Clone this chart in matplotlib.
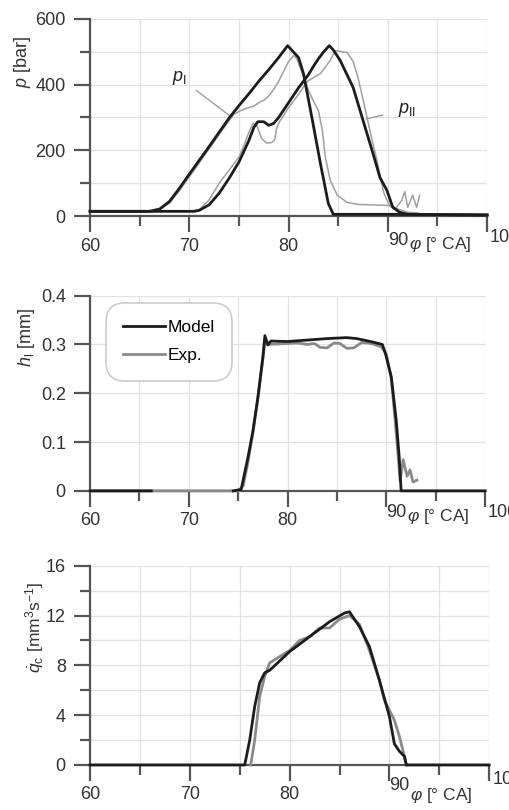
import numpy as np
import matplotlib
matplotlib.use("Agg")
import matplotlib.pyplot as plt
from matplotlib.ticker import FixedLocator

plt.rcParams['font.family'] = ['Liberation Sans', 'DejaVu Sans']
plt.rcParams['mathtext.fontset'] = 'custom'
plt.rcParams['mathtext.rm'] = 'Liberation Sans'
plt.rcParams['mathtext.it'] = 'Liberation Sans:italic'

# --- pressure, top panel ---
phi_pI_mod = [60, 66, 67, 68, 69, 70, 71, 72, 73, 74, 75, 76, 77, 78, 79, 79.9,
              81.0, 81.5, 82.4, 83.2, 84.0, 84.5, 90, 100]
pI_mod = [15, 15, 22, 45, 85, 128, 170, 212, 255, 298, 336, 372, 410, 445, 482, 518,
          482, 433, 291, 161, 39, 6, 6, 4]

phi_pI_exp = [60, 66, 67, 68, 69, 70, 71, 72, 73, 74, 74.5, 75, 75.5, 76, 76.5, 77,
              77.5, 78, 78.5, 79, 79.5, 80, 80.5, 80.8, 81.4, 82.0, 82.5, 83.0, 83.4,
              83.7, 84.2, 84.9, 85.9, 87, 90, 90.5, 91, 92, 93]
pI_exp = [15, 15, 20, 40, 78, 120, 162, 205, 248, 290, 310, 318, 325, 330, 334, 345,
          352, 365, 385, 410, 440, 470, 488, 480, 433, 382, 350, 321, 261,
          179, 109, 64, 42, 36, 33, 30, 22, 12, 10]

phi_pII_mod = [60, 70.5, 71, 72, 73, 74, 75, 76, 76.5, 76.9, 77.5, 78, 78.5, 79, 80,
               81, 82, 82.5, 83, 83.5, 84.1, 84.5, 85.2, 86.5, 87.5, 88.5, 89.2, 89.9,
               90.5, 91.2, 92, 100]
pII_mod = [15, 15, 18, 35, 70, 115, 165, 230, 270, 287, 287, 276, 282, 300, 345,
           390, 430, 455, 478, 498, 518, 505, 473, 391, 291, 191, 118, 79,
           27, 12, 6, 4]

phi_pII_exp = [60, 70, 71, 72, 73, 74, 75, 75.5, 76, 76.4, 76.8, 77.3, 77.8, 78.3,
               78.6, 78.8, 79.1, 80, 81, 81.9, 83.2, 84.2, 84.7, 85.9, 86.5, 87, 87.5,
               87.9, 88.5, 88.9, 89.3, 89.6, 90.2, 90.8, 91.4, 91.7, 92.0, 92.5, 92.9, 93.2]
pII_exp = [15, 15, 20, 50, 100, 140, 180, 215, 255, 282, 275, 235, 222, 224,
           232, 268, 288, 330, 370, 410, 433, 473, 503, 497, 470, 420, 355,
           300, 220, 170, 110, 70, 30, 25, 48, 75, 27, 64, 27, 64]

# --- lift, middle panel ---
phi_h_mod = [60, 66.2, np.nan, 74.5, 75.3, 76, 76.5, 77, 77.5, 77.7, 78.0, 78.3, 80, 82,
             84, 86, 87, 88.4, 89.6, 89.9, 90.5, 91, 91.3, 91.5, 100]
h_mod = [0, 0, np.nan, 0, 0.003, 0.07, 0.124, 0.193, 0.275, 0.318, 0.299, 0.307, 0.306,
         0.309, 0.312, 0.314, 0.312, 0.306, 0.300, 0.282, 0.234, 0.145, 0.07, 0, 0]

phi_h_exp = [60, 75.0, 75.5, 76, 76.5, 77, 77.5, 77.7, 78, 80, 81, 82, 82.7, 83.3, 84,
             84.7, 85.3, 86, 86.7, 87.5, 88.5, 89.5, 90, 90.5, 91, 91.4, 91.7, 92.1,
             92.4, 92.7, 93.1]
h_exp = [0, 0, 0.01, 0.06, 0.12, 0.19, 0.27, 0.305, 0.30, 0.302, 0.303, 0.30, 0.302,
         0.294, 0.293, 0.303, 0.302, 0.292, 0.293, 0.304, 0.302, 0.295, 0.28, 0.23,
         0.12, 0.02, 0.064, 0.03, 0.043, 0.018, 0.022]

# --- flow rate, bottom panel ---
phi_q_mod = [60, 75.5, 76, 76.5, 77, 77.5, 78, 80, 82, 84, 85.5, 86, 87, 88, 89, 90,
             90.5, 91, 91.5, 91.7, 100]
q_mod = [0, 0, 2.0, 4.7, 6.6, 7.4, 7.6, 9.1, 10.3, 11.5, 12.2, 12.3, 11.1, 9.5, 6.8,
         3.9, 1.7, 1.1, 0.7, 0, 0]

phi_q_exp = [76.1, 76.5, 77, 77.5, 78, 79, 80, 81, 82, 83, 84, 85, 86, 87, 88, 89,
             89.5, 90, 90.5, 91, 91.5, 91.7]
q_exp = [0, 2, 5.5, 7.1, 8.2, 8.7, 9.2, 10.0, 10.3, 11.0, 11.0, 11.7, 12.0, 11.3, 9.2,
         6.8, 5.2, 4.4, 3.6, 2.3, 0.7, 0]

# tick values / labels
x_major = [60, 70, 80, 90, 100]
x_minor = [65, 75, 85, 95]
x_labels = ['60', '70', '80', '', '']
p_ticks = [0, 200, 400, 600]
p_minor = [100, 300, 500]
h_ticks = [0, 0.1, 0.2, 0.3, 0.4]
h_labels = ['0', '0.1', '0.2', '0.3', '0.4']
q_ticks = [0, 4, 8, 12, 16]
q_minor = [2, 6, 10, 14]

ax_col = '#555555'
blk = '#1c1c1c'
fs = 13

fig = plt.figure(figsize=(5.09, 8.10), dpi=100)
ax1 = fig.add_axes([0.177, 0.733, 0.780, 0.244])
ax2 = fig.add_axes([0.177, 0.394, 0.776, 0.241])
ax3 = fig.add_axes([0.177, 0.0556, 0.784, 0.246])


def style(ax, ymax, yticks, yminor, ylabels, offs):
    ax.set_xlim(60, 100)
    ax.set_ylim(0, ymax)
    for s in ['top', 'right']:
        ax.spines[s].set_visible(False)
    for s in ['left', 'bottom']:
        ax.spines[s].set_color(ax_col)
        ax.spines[s].set_linewidth(1.6)
    ax.set_xticks(x_major)
    ax.set_xticklabels(x_labels)
    ax.xaxis.set_minor_locator(FixedLocator(x_minor))
    ax.set_yticks(yticks)
    ax.set_yticklabels(ylabels)
    if yminor:
        ax.yaxis.set_minor_locator(FixedLocator(yminor))
    ax.tick_params(which='major', length=11.5, width=1.6, color=ax_col,
                   labelsize=fs, labelcolor='#333333')
    ax.tick_params(which='minor', length=7, width=1.6, color=ax_col)
    ax.tick_params(axis='y', pad=6)
    ax.tick_params(axis='x', pad=4)
    ax.grid(which='both', color='#e2e2e2', lw=0.9)
    ax.set_axisbelow(True)
    # shifted labels near the right end of the x axis
    o90, ophi, o100 = offs
    ax.annotate('90', xy=(90, 0), xycoords=('data', 'axes fraction'),
                xytext=(0, o90), textcoords='offset pixels', ha='left',
                va='center', fontsize=fs, color='#333333', annotation_clip=False)
    ax.annotate(r'$\varphi$ [° CA]', xy=(92.1, 0), xycoords=('data', 'axes fraction'),
                xytext=(0, ophi), textcoords='offset pixels', ha='left',
                va='center', fontsize=12.5, color='#333333', annotation_clip=False)
    ax.annotate('100', xy=(100, 0), xycoords=('data', 'axes fraction'),
                xytext=(3, o100), textcoords='offset pixels', ha='left',
                va='center', fontsize=fs, color='#333333', annotation_clip=False)


style(ax1, 600, p_ticks, p_minor, [str(v) for v in p_ticks], (-24, -28, -21))
style(ax2, 0.4, h_ticks, None, h_labels, (-22, -26, -22))
style(ax3, 16, q_ticks, q_minor, [str(v) for v in q_ticks], (-21, -31, -15))

# top panel
ax1.plot(phi_pI_exp, pI_exp, color='#a0a0a0', lw=1.1, zorder=3, clip_on=False)
ax1.plot(phi_pII_exp, pII_exp, color='#a0a0a0', lw=1.1, zorder=3, clip_on=False)
ax1.plot(phi_pI_mod, pI_mod, color=blk, lw=2.0, zorder=4, clip_on=False)
ax1.plot(phi_pII_mod, pII_mod, color=blk, lw=2.0, zorder=4, clip_on=False)
ax1.annotate(r'$p_\mathrm{I}$', xy=(74.3, 300), xytext=(69.0, 421),
             ha='center', va='center', fontsize=fs, color='#222222',
             arrowprops=dict(arrowstyle='-', color='#a0a0a0', lw=1.0,
                             shrinkA=6, shrinkB=0))
ax1.annotate(r'$p_\mathrm{II}$', xy=(87.8, 295), xytext=(91.9, 324),
             ha='center', va='center', fontsize=fs, color='#222222',
             arrowprops=dict(arrowstyle='-', color='#a0a0a0', lw=1.0,
                             shrinkA=9, shrinkB=0))
ax1.text(-0.171, 0.78, r'$p$ [bar]', transform=ax1.transAxes, rotation=90,
         ha='center', va='center', fontsize=fs, color='#333333')

# middle panel
ax2.plot(phi_h_exp, h_exp, color='#8a8a8a', lw=2.0, zorder=3, clip_on=False, label='Exp.')
ax2.plot(phi_h_mod, h_mod, color=blk, lw=2.0, zorder=4, clip_on=False, label='Model')
h, l = ax2.get_legend_handles_labels()
leg = ax2.legend(h[::-1], l[::-1], loc='upper left', bbox_to_anchor=(0.04, 0.964),
                 borderaxespad=0, fontsize=12.5, handlelength=2.4, handletextpad=0.15,
                 labelspacing=0.75, borderpad=1.0, fancybox=True, framealpha=1)
leg.get_frame().set_edgecolor('#cccccc')
leg.get_frame().set_linewidth(1.2)
leg.get_frame().set_boxstyle('round', pad=0.0, rounding_size=1.1)
ax2.text(-0.16, 0.785, r'$h_\mathrm{l}$ [mm]', transform=ax2.transAxes, rotation=90,
         ha='center', va='center', fontsize=fs, color='#333333')

# bottom panel
ax3.plot(phi_q_exp, q_exp, color='#8a8a8a', lw=2.0, zorder=3, clip_on=False)
ax3.plot(phi_q_mod, q_mod, color=blk, lw=2.0, zorder=4, clip_on=False)
ax3.text(-0.14, 0.69, r'$\dot{q}_\mathrm{c}$ [mm$^3$s$^{-1}$]', transform=ax3.transAxes,
         rotation=90, ha='center', va='center', fontsize=12.5, color='#333333')

fig.savefig('out.png', dpi=100)
